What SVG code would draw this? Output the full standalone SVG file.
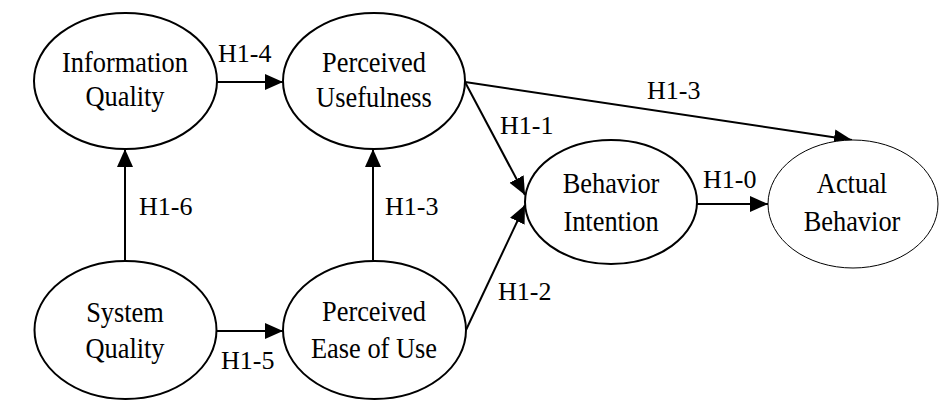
<svg xmlns="http://www.w3.org/2000/svg" width="951" height="413" viewBox="0 0 951 413">
<style>
.n{fill:#fff;stroke:#000;stroke-width:2}
.t{font-family:'Liberation Serif','Times New Roman',serif;font-size:29px;text-anchor:middle;fill:#000}
.l{font-family:'Liberation Serif','Times New Roman',serif;font-size:26px;fill:#000}
.c{fill:none;stroke:#000;stroke-width:2}
</style>
<defs>
<marker id="ah" markerUnits="userSpaceOnUse" markerWidth="20" markerHeight="18" refX="18" refY="8" orient="auto">
<path d="M0,0 L18,8 L0,16 z" fill="#000"/>
</marker>
</defs>
<rect width="951" height="413" fill="#fff"/>
<g id="connectors">
<path class="c" d="M217,82 L283,82" marker-end="url(#ah)"/>
<path class="c" d="M125,260 L125,149" marker-end="url(#ah)"/>
<path class="c" d="M373,260 L373,149" marker-end="url(#ah)"/>
<path class="c" d="M216,331 L283,331" marker-end="url(#ah)"/>
<path class="c" d="M465,82 L525,195" marker-end="url(#ah)"/>
<path class="c" d="M466,330 L525,205" marker-end="url(#ah)"/>
<path class="c" d="M465,82 L852,140" marker-end="url(#ah)"/>
<path class="c" d="M697,204 L768,204" marker-end="url(#ah)"/>
<text class="l" x="218" y="62">H1-4</text>
<text class="l" x="139" y="215">H1-6</text>
<text class="l" x="385" y="215">H1-3</text>
<text class="l" x="221" y="369">H1-5</text>
<text class="l" x="500" y="134">H1-1</text>
<text class="l" x="498" y="300">H1-2</text>
<text class="l" x="647" y="99">H1-3</text>
<text class="l" x="703" y="188">H1-0</text>
</g>
<g id="information-quality">
<ellipse class="n" cx="125.5" cy="81" rx="91.5" ry="68"/>
<text class="t" transform="translate(125,0) scale(0.91,1)" y="72">Information</text>
<text class="t" transform="translate(125,0) scale(0.91,1)" y="106">Quality</text>
</g>
<g id="perceived-usefulness">
<ellipse class="n" cx="374" cy="81" rx="91" ry="68"/>
<text class="t" transform="translate(374,0) scale(0.91,1)" y="72">Perceived</text>
<text class="t" transform="translate(374,0) scale(0.91,1)" y="107">Usefulness</text>
</g>
<g id="system-quality">
<ellipse class="n" cx="125.5" cy="330" rx="91" ry="69"/>
<text class="t" transform="translate(125,0) scale(0.91,1)" y="322">System</text>
<text class="t" transform="translate(125,0) scale(0.91,1)" y="358">Quality</text>
</g>
<g id="perceived-ease-of-use">
<ellipse class="n" cx="374.5" cy="330" rx="91.5" ry="69"/>
<text class="t" transform="translate(374,0) scale(0.91,1)" y="321">Perceived</text>
<text class="t" transform="translate(374,0) scale(0.91,1)" y="358">Ease of Use</text>
</g>
<g id="behavior-intention">
<ellipse class="n" cx="611" cy="202" rx="86" ry="62"/>
<text class="t" transform="translate(611,0) scale(0.91,1)" y="193">Behavior</text>
<text class="t" transform="translate(611,0) scale(0.91,1)" y="231">Intention</text>
</g>
<g id="actual-behavior">
<ellipse class="n" cx="853" cy="204" rx="85" ry="64" style="stroke-width:1"/>
<text class="t" transform="translate(852,0) scale(0.91,1)" y="193">Actual</text>
<text class="t" transform="translate(852,0) scale(0.91,1)" y="231">Behavior</text>
</g>
</svg>
